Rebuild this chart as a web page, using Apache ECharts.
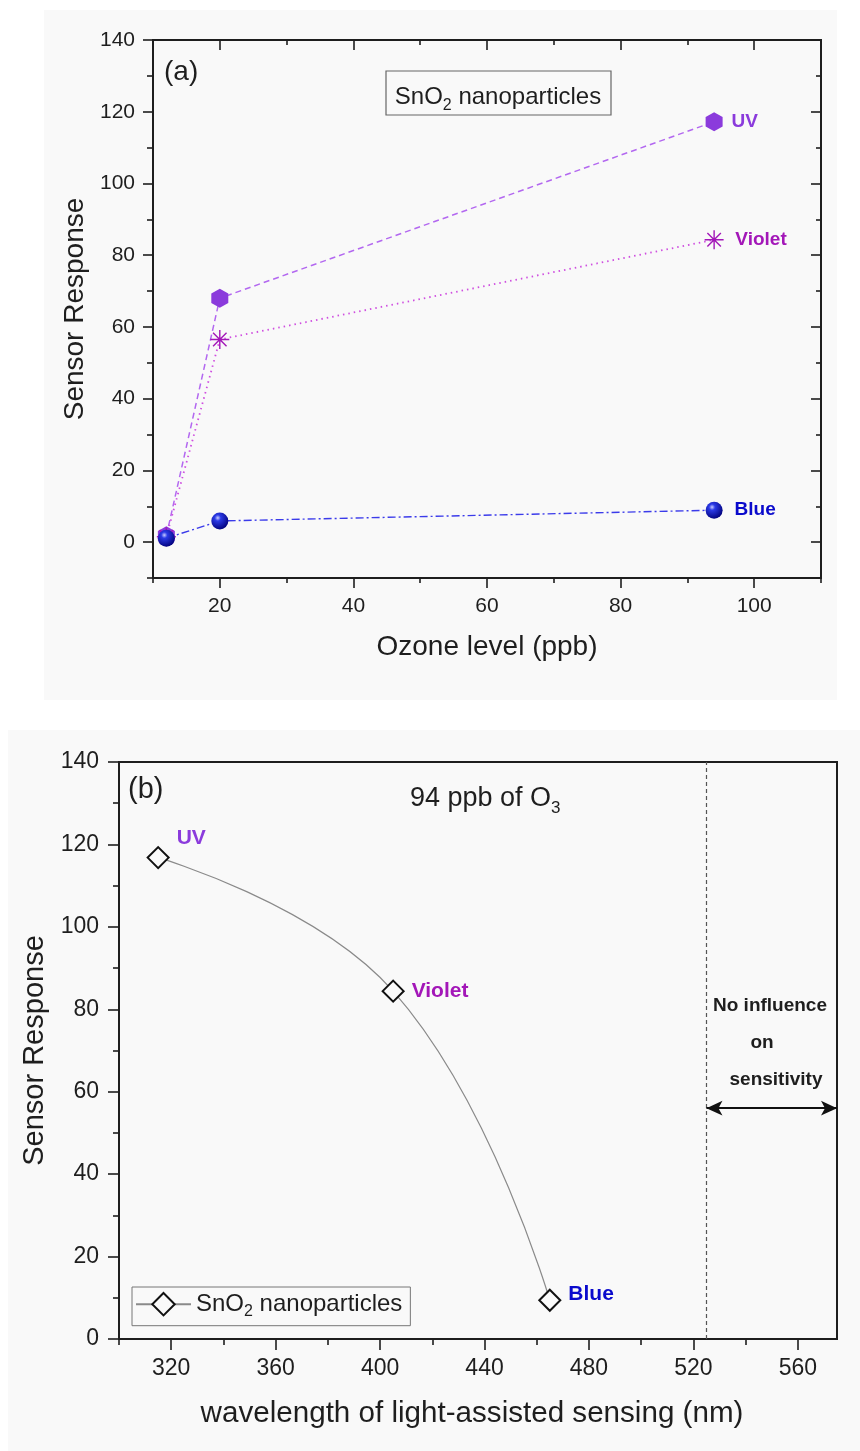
<!DOCTYPE html>
<html><head><meta charset="utf-8">
<script src="https://cdn.jsdelivr.net/npm/echarts@6/dist/echarts.min.js"></script>
<style>html,body{margin:0;padding:0;background:#fff;}#c{width:860px;height:1451px;}</style>
</head><body><div id="c"></div>
<script>
// ---------- data ----------
const ozoneLevels = [12, 20, 94];
const uvResponse = [1.8, 68, 117.2];
const violetResponse = [1.5, 56.5, 84.3];
const blueResponse = [1.1, 5.9, 8.9];
const lightNames = ['UV', 'Violet', 'Blue'];

const wavelengths = [315, 405, 465];
const responseAt94ppb = [116.8, 84.4, 9.4];
const cutoffWavelength = 525;
const arrowLevel = 56;

const aXMajor = [20, 40, 60, 80, 100];
const aXMinor = [10, 30, 50, 70, 90, 110];
const aYMajor = [0, 20, 40, 60, 80, 100, 120, 140];
const aYMinor = [-10, 10, 30, 50, 70, 90, 110, 130];
const bXMajor = [320, 360, 400, 440, 480, 520, 560];
const bXMinor = [300, 340, 380, 420, 460, 500, 540];
const bYMajor = [0, 20, 40, 60, 80, 100, 120, 140];
const bYMinor = [10, 30, 50, 70, 90, 110, 130];

// ---------- styles ----------
const FONT = '"Liberation Sans", Arial, Helvetica, sans-serif';
const INK = '#1e1e1e';
const C_UV = '#8b3bdc', C_UV_LINE = '#b368f0';
const C_VIO = '#a317b8', C_VIO_LINE = '#cf4ee0';
const C_BLUE = '#0a0acc', C_BLUE_LINE = '#3b3bea';

const gridA = {left: 153, top: 40, width: 668, height: 538};
const gridB = {left: 119, top: 762, width: 718, height: 577};

const grids = [
  Object.assign({show: true, borderColor: INK, borderWidth: 2, backgroundColor: 'transparent'}, gridA),
  Object.assign({}, gridA), Object.assign({}, gridA), Object.assign({}, gridA),
  Object.assign({show: true, borderColor: INK, borderWidth: 2, backgroundColor: 'transparent'}, gridB),
  Object.assign({}, gridB)
];

function ax(gi, min, max, position, ticks, len, inside, labels, extra) {
  return Object.assign({
    type: 'value', gridIndex: gi, min: min, max: max, position: position,
    splitLine: {show: false},
    axisLine: {show: false, onZero: false},
    axisTick: {show: true, customValues: ticks, length: len, inside: inside,
      lineStyle: {color: INK, width: 1.6}},
    axisLabel: labels ? {show: true, customValues: labels, color: INK, fontFamily: FONT,
      fontSize: extra && extra.fs || 21, margin: extra && extra.margin || 18} : {show: false}
  }, extra && extra.axis || {});
}

const xAxes = [
  ax(0, 10, 110, 'bottom', aXMajor, 10, false, aXMajor, {fs: 21, margin: 18, axis: {
    name: 'Ozone level (ppb)', nameLocation: 'middle', nameGap: 55,
    nameTextStyle: {fontFamily: FONT, fontSize: 28, color: INK}}}),
  ax(1, 10, 110, 'bottom', aXMinor, 5, false, null),
  ax(2, 10, 110, 'top', aXMajor, 10, true, null),
  ax(3, 10, 110, 'top', aXMinor, 5, true, null),
  ax(4, 300, 575, 'bottom', bXMajor, 11, false, bXMajor, {fs: 23, margin: 18, axis: {
    name: 'wavelength of light-assisted sensing (nm)', nameLocation: 'middle', nameGap: 60,
    nameTextStyle: {fontFamily: FONT, fontSize: 29.6, color: INK, padding: [0, 12, 0, 0]}}}),
  ax(5, 300, 575, 'bottom', bXMinor, 6, false, null)
];
const yAxes = [
  ax(0, -10, 140, 'left', aYMajor, 10, false, aYMajor, {fs: 21, margin: 18, axis: {
    name: 'Sensor Response', nameLocation: 'middle', nameGap: 60,
    nameTextStyle: {fontFamily: FONT, fontSize: 28, color: INK}}}),
  ax(1, -10, 140, 'left', aYMinor, 6, false, null),
  ax(2, -10, 140, 'right', aYMajor, 10, true, null),
  ax(3, -10, 140, 'right', aYMinor, 5, true, null),
  ax(4, 0, 140, 'left', bYMajor, 11, false, bYMajor, {fs: 23, margin: 20, axis: {
    name: 'Sensor Response', nameLocation: 'middle', nameGap: 64,
    nameTextStyle: {fontFamily: FONT, fontSize: 29, color: INK}}}),
  ax(5, 0, 140, 'left', bYMinor, 6, false, null)
];

const hexPath = 'path://M8.66,0L17.32,5L17.32,15L8.66,20L0,15L0,5Z';
const starPath = 'path://M10,0L10,20M0,10L20,10M2.9,2.9L17.1,17.1M2.9,17.1L17.1,2.9';

function panelAData(ys, name) {
  return ozoneLevels.map((x, i) => i === ozoneLevels.length - 1
    ? {value: [x, ys[i]], label: {show: true, formatter: name}}
    : [x, ys[i]]);
}
function sideLabel(color, distance) {
  return {show: false, position: 'right', distance: distance, color: color,
    fontFamily: FONT, fontWeight: 'bold', fontSize: 19};
}

const labelColorsB = [C_UV, C_VIO, C_BLUE];
const labelOffsetsB = [[0, -19], [0, 0], [0, -6]];

const seriesList = [
  {name: 'UV', type: 'line', xAxisIndex: 0, yAxisIndex: 0, z: 3,
    data: panelAData(uvResponse, lightNames[0]),
    symbol: hexPath, symbolSize: [17, 19], symbolKeepAspect: false,
    itemStyle: {color: C_UV},
    lineStyle: {color: C_UV_LINE, width: 1.5, type: [6, 4]},
    label: sideLabel(C_UV, 9)},
  {name: 'Violet', type: 'line', xAxisIndex: 0, yAxisIndex: 0, z: 4,
    data: panelAData(violetResponse, lightNames[1]),
    symbol: starPath, symbolSize: 19,
    itemStyle: {color: 'rgba(0,0,0,0)', borderColor: C_VIO, borderWidth: 1.4},
    lineStyle: {color: C_VIO_LINE, width: 1.8, type: [1.5, 4]},
    label: sideLabel(C_VIO, 11)},
  {name: 'Blue', type: 'line', xAxisIndex: 0, yAxisIndex: 0, z: 5,
    data: panelAData(blueResponse, lightNames[2]),
    symbol: 'circle', symbolSize: 17,
    itemStyle: {color: {type: 'radial', x: 0.38, y: 0.32, r: 0.72, colorStops: [
      {offset: 0, color: '#c9ccff'}, {offset: 0.25, color: '#2b3ae6'}, {offset: 1, color: '#00007a'}]}},
    lineStyle: {color: C_BLUE_LINE, width: 1.4, type: [8, 3, 2, 3]},
    label: sideLabel(C_BLUE, 12)},
  {name: 'SnO2 nanoparticles', type: 'line', xAxisIndex: 4, yAxisIndex: 4, z: 5,
    smooth: 0.45,
    data: wavelengths.map((x, i) => ({value: [x, responseAt94ppb[i]],
      label: {show: true, formatter: lightNames[i], color: labelColorsB[i], offset: labelOffsetsB[i]}})),
    symbol: 'diamond', symbolSize: [21, 21],
    itemStyle: {color: '#fafafa', borderColor: '#111', borderWidth: 2},
    lineStyle: {color: '#8a8a8a', width: 1.2},
    label: {position: 'right', distance: 7, fontFamily: FONT, fontWeight: 'bold', fontSize: 21},
    markLine: {silent: true, animation: false, symbol: 'none',
      label: {show: false},
      data: [
        {xAxis: cutoffWavelength, lineStyle: {type: [4, 3], color: '#555', width: 1.2}},
        [{coord: [cutoffWavelength, arrowLevel], symbol: 'arrow', symbolSize: [11, 16]},
         {coord: [575, arrowLevel], symbol: 'arrow', symbolSize: [11, 16],
          lineStyle: {type: 'solid', color: '#111', width: 1.8}}]
      ]}}
];

const bg = '#f9f9f9';
const subRich = (fs, sfs, lh) => ({
  a: {fontFamily: FONT, fontSize: fs, color: INK, fill: INK, lineHeight: lh},
  s: {fontFamily: FONT, fontSize: sfs, color: INK, fill: INK, lineHeight: sfs, verticalAlign: 'bottom'}
});
const option = {
  animation: false,
  grid: grids,
  xAxis: xAxes,
  yAxis: yAxes,
  legend: {data: ['SnO2 nanoparticles'], left: 132, top: 1287,
    borderColor: '#777', borderWidth: 1, padding: [5, 8, 6, 3],
    itemWidth: 55, itemHeight: 28, itemGap: 0,
    formatter: () => '{a|SnO}{s|2}{a| nanoparticles}',
    textStyle: {rich: subRich(24, 16, 31)}},
  series: seriesList,
  graphic: [
    {type: 'rect', z: -10, silent: true, shape: {x: 44, y: 10, width: 793, height: 690}, style: {fill: bg}},
    {type: 'rect', z: -10, silent: true, shape: {x: 8, y: 730, width: 852, height: 721}, style: {fill: bg}},
    {type: 'text', x: 164, y: 72, style: {text: '(a)', fontFamily: FONT, fontSize: 28, fill: INK, verticalAlign: 'middle'}},
    {type: 'rect', shape: {x: 386, y: 71, width: 225, height: 44}, style: {fill: 'none', stroke: '#666', lineWidth: 1.2}},
    {type: 'text', x: 498, y: 97, style: {text: '{a|SnO}{s|2}{a| nanoparticles}', align: 'center', verticalAlign: 'middle',
      rich: subRich(24, 16, 33)}},
    {type: 'text', x: 128, y: 790, style: {text: '(b)', fontFamily: FONT, fontSize: 29, fill: INK, verticalAlign: 'middle'}},
    {type: 'text', x: 410, y: 799, style: {text: '{a|94 ppb of O}{s|3}', verticalAlign: 'middle',
      rich: subRich(27, 17, 36)}},
    {type: 'text', x: 770, y: 1006, style: {text: 'No influence', align: 'center', verticalAlign: 'middle', fontFamily: FONT, fontWeight: 'bold', fontSize: 19, fill: INK}},
    {type: 'text', x: 762, y: 1043, style: {text: 'on', align: 'center', verticalAlign: 'middle', fontFamily: FONT, fontWeight: 'bold', fontSize: 19, fill: INK}},
    {type: 'text', x: 776, y: 1080, style: {text: 'sensitivity', align: 'center', verticalAlign: 'middle', fontFamily: FONT, fontWeight: 'bold', fontSize: 19, fill: INK}}
  ]
};
const chart = echarts.init(document.getElementById('c'), null, {renderer: 'canvas'});
chart.setOption(option);
</script></body></html>
